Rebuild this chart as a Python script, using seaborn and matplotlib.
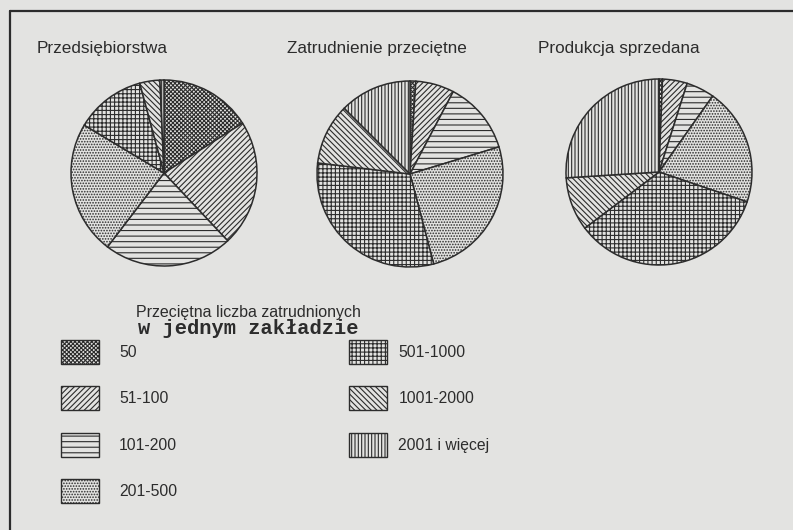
import seaborn as sns
import matplotlib.pyplot as plt
from matplotlib.patches import Patch
from matplotlib.lines import Line2D

# udzialy (%), kolejnosc jak w legendzie
klasy = ["50", "51-100", "101-200", "201-500", "501-1000", "1001-2000", "2001 i więcej"]
przedsiebiorstwa = [16.0, 22.0, 22.4, 23.2, 12.2, 3.5, 0.7]
zatrudnienie = [1.0, 6.7, 12.6, 25.6, 31.0, 10.6, 12.5]
produkcja = [0.6, 4.3, 4.9, 20.4, 34.5, 9.3, 26.0]
tytuly = ["Przedsiębiorstwa", "Zatrudnienie przeciętne", "Produkcja sprzedana"]

kreskowania = ["xxxxxxxx", "//////", "---", "......", "++++", "\\" * 6, "|||||"]

papier = "#e3e3e1"
tusz = "#2c2c2c"

sns.set_style("white")
plt.rcParams["font.family"] = ["Liberation Sans", "DejaVu Sans"]
plt.rcParams["hatch.linewidth"] = 0.8
plt.rcParams["hatch.color"] = tusz

W, H = 793, 530
fig = plt.figure(figsize=(W / 100, H / 100), dpi=100, facecolor=papier)

def px(x, y):
    return x / W, 1 - y / H

# ramka (tylko gorna i lewa krawedz widoczna)
fig.add_artist(Line2D([10 / W, 1], [1 - 11 / H] * 2, color=tusz, lw=1.6))
fig.add_artist(Line2D([10 / W] * 2, [1 - 11 / H, 0], color=tusz, lw=1.6))

srodki = [(164, 173), (410, 174), (659, 172)]
r = 93
tytul_x = [37, 287, 538]

for dane, tytul, (cx, cy), tx in zip([przedsiebiorstwa, zatrudnienie, produkcja],
                                     tytuly, srodki, tytul_x):
    ax = fig.add_axes([(cx - r) / W, (H - cy - r) / H, 2 * r / W, 2 * r / H])
    wedges, _ = ax.pie(dane, startangle=90, counterclock=False,
                       colors=[papier] * len(dane),
                       wedgeprops={"edgecolor": tusz, "linewidth": 1.1, "clip_on": False})
    for w, h in zip(wedges, kreskowania):
        w.set_hatch(h)
    ax.set_xlim(-1, 1)
    ax.set_ylim(-1, 1)
    ax.set_aspect("auto")
    ax.axis("off")
    fig.text(*px(tx, 48), tytul, fontsize=12.3, color=tusz, ha="left", va="center")

# legenda
fig.text(*px(248, 312), "Przeciętna liczba zatrudnionych", fontsize=11.5,
         color=tusz, ha="center", va="center")
fig.text(*px(248, 329), "w jednym zakładzie", fontsize=14.7, family="Liberation Mono",
         weight="bold", color=tusz, ha="center", va="center")

uchwyty = [Patch(facecolor=papier, edgecolor=tusz, hatch=h, linewidth=1.0)
           for h in kreskowania]

opcje = dict(loc="upper left", frameon=False, fontsize=11.3, labelcolor=tusz,
             handlelength=2.4, handleheight=1.95, labelspacing=1.45,
             borderpad=0, borderaxespad=0)
fig.legend(uchwyty[:4], klasy[:4], bbox_to_anchor=px(61, 340),
           handletextpad=1.3, **opcje)
fig.legend(uchwyty[4:], klasy[4:], bbox_to_anchor=px(349, 340),
           handletextpad=0.75, **opcje)

fig.savefig("out.png", dpi=100, facecolor=papier)
